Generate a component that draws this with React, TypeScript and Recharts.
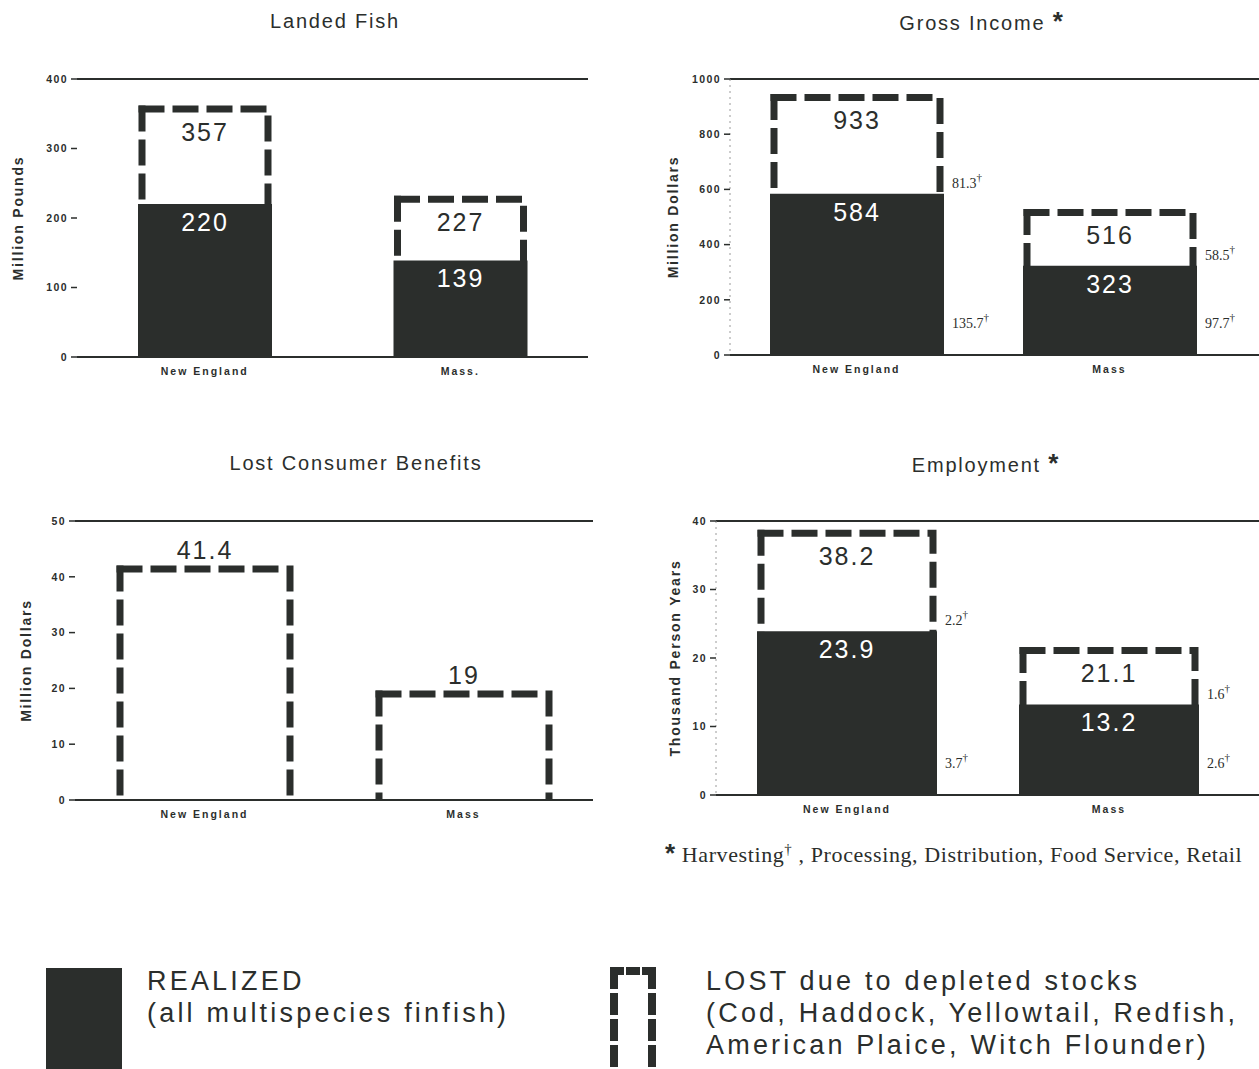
import React from 'react';
import { BarChart, Bar, XAxis, YAxis, LabelList } from 'recharts';

const INK = '#2b2e2c';
const SANS = '"Liberation Sans", Arial, sans-serif';
const SERIF = '"Liberation Serif", "Times New Roman", serif';

// Landed Fish (million pounds)
const landedCats = ['New England', 'Mass.'];
const landedRealized = [220, 139];
const landedTotal = [357, 227];
const landedTicks = [0, 100, 200, 300, 400];

// Gross Income (million dollars)
const incomeCats = ['New England', 'Mass'];
const incomeRealized = [584, 323];
const incomeTotal = [933, 516];
const incomeHarvLost = [81.3, 58.5];
const incomeHarvRealized = [135.7, 97.7];
const incomeTicks = [0, 200, 400, 600, 800, 1000];

// Lost Consumer Benefits (million dollars)
const consumerCats = ['New England', 'Mass'];
const consumerTotal = [41.4, 19];
const consumerTicks = [0, 10, 20, 30, 40, 50];

// Employment (thousand person years)
const employCats = ['New England', 'Mass'];
const employRealized = [23.9, 13.2];
const employTotal = [38.2, 21.1];
const employHarvLost = [2.2, 1.6];
const employHarvRealized = [3.7, 2.6];
const employTicks = [0, 10, 20, 30, 40];

// dashed "lost" outline, open at the bottom
const DashedBox = (props: any) => {
  const { x, y, width, height } = props;
  if (!height) return null;
  const b = y + height - 4;
  return (
    <g fill="none" stroke={INK} strokeWidth={7} strokeDasharray="19 15" strokeLinecap="square">
      <path d={`M${x},${y}H${x + width}V${b}`} />
      <path d={`M${x},${y}V${b}`} />
    </g>
  );
};

// harvesting footnotes beside the bars
const sideNote = (above: boolean) => (p: any) => {
  const vb = p.viewBox ?? p;
  const { x, y, width, height } = vb;
  if (p.value == null) return null;
  const ty = above ? y - 6 : y + height - 27;
  return (
    <text x={x + width + 8} y={ty} fontFamily={SERIF} fontSize={14} fill={INK}>
      {p.value}
      <tspan dy={-7} fontSize={11}>†</tspan>
    </text>
  );
};

type PanelProps = {
  left: number;
  top: number;
  width: number;
  height: number;
  margin: { top: number; right: number; bottom: number; left: number };
  padRight: number;
  yLabel: string;
  yLabelOffset: number;
  ticks: number[];
  barSize: number;
  cats: string[];
  total: number[];
  realized?: number[];
  harvLost?: number[];
  harvRealized?: number[];
  labelOutside?: boolean;
  dottedAxis?: boolean;
};

const tickFont = { fill: INK, fontSize: 10.5, fontWeight: 700, fontFamily: SANS, letterSpacing: 1.4 };

const Panel = (p: PanelProps) => {
  const rows = p.cats.map((name, i) => ({
    name,
    total: p.total[i],
    realized: p.realized ? p.realized[i] : undefined,
    harvLost: p.harvLost ? p.harvLost[i] : undefined,
    harvRealized: p.harvRealized ? p.harvRealized[i] : undefined,
  }));
  const max = p.ticks[p.ticks.length - 1];
  return (
    <div style={{ position: 'absolute', left: p.left, top: p.top }}>
      <BarChart width={p.width} height={p.height} data={rows} margin={p.margin}>
        <XAxis
          xAxisId="base"
          dataKey="name"
          height={20}
          interval={0}
          padding={{ left: 0, right: p.padRight }}
          axisLine={{ stroke: INK, strokeWidth: 2 }}
          tickLine={false}
          tickMargin={5}
          tick={{ ...tickFont, letterSpacing: 2 }}
        />
        <XAxis
          xAxisId="top"
          dataKey="name"
          orientation="top"
          height={1}
          padding={{ left: 0, right: p.padRight }}
          axisLine={{ stroke: INK, strokeWidth: 2 }}
          tickLine={false}
          tick={false}
        />
        <YAxis
          domain={[0, max]}
          ticks={p.ticks}
          width={60}
          axisLine={p.dottedAxis ? { stroke: '#9a9a9a', strokeDasharray: '2 4' } : false}
          tickSize={6}
          tickMargin={3}
          tickLine={{ stroke: INK, strokeWidth: 1.5 }}
          tick={tickFont}
          label={{
            value: p.yLabel,
            angle: -90,
            position: 'insideLeft',
            offset: p.yLabelOffset,
            style: { textAnchor: 'middle', fill: INK, fontSize: 14, fontWeight: 700, fontFamily: SANS, letterSpacing: 1.8 },
          }}
        />
        <Bar xAxisId="top" dataKey="total" barSize={p.barSize} shape={DashedBox} isAnimationActive={false}>
          <LabelList
            dataKey="total"
            position={p.labelOutside ? 'top' : 'insideTop'}
            offset={p.labelOutside ? 10 : 14}
            fill={INK}
            fontSize={25}
            fontFamily={SANS}
            letterSpacing={2}
          />
        </Bar>
        {p.realized && (
          <Bar xAxisId="base" dataKey="realized" barSize={p.barSize + 8} fill={INK} isAnimationActive={false}>
            <LabelList
              dataKey="realized"
              position="insideTop"
              offset={9}
              fill="#ffffff"
              fontSize={25}
              fontFamily={SANS}
              letterSpacing={2}
            />
            {p.harvLost && <LabelList dataKey="harvLost" content={sideNote(true)} />}
            {p.harvRealized && <LabelList dataKey="harvRealized" content={sideNote(false)} />}
          </Bar>
        )}
      </BarChart>
    </div>
  );
};

const titleStyle: React.CSSProperties = {
  position: 'absolute',
  transform: 'translate(-50%, -50%)',
  fontFamily: SANS,
  fontSize: 20,
  letterSpacing: 1.8,
  color: INK,
  whiteSpace: 'nowrap',
};

const legendText: React.CSSProperties = {
  position: 'absolute',
  fontFamily: SANS,
  fontSize: 27,
  letterSpacing: 3.2,
  lineHeight: '32px',
  color: INK,
  whiteSpace: 'nowrap',
};

export default function App() {
  return (
    <div style={{ position: 'absolute', left: 0, top: 0, width: 1259, height: 1069, background: '#fff', overflow: 'hidden' }}>
      <div style={{ ...titleStyle, left: 335, top: 21 }}>Landed Fish</div>
      <div style={{ ...titleStyle, left: 982, top: 21 }}>
        Gross Income <span style={{ fontSize: 26, fontWeight: 700 }}>*</span>
      </div>
      <div style={{ ...titleStyle, left: 356, top: 463 }}>Lost Consumer Benefits</div>
      <div style={{ ...titleStyle, left: 986, top: 463 }}>
        Employment <span style={{ fontSize: 26, fontWeight: 700 }}>*</span>
      </div>

      <Panel
        left={0}
        top={60}
        width={620}
        height={330}
        margin={{ top: 18, right: 32, bottom: 13, left: 17 }}
        padRight={0}
        yLabel="Million Pounds"
        yLabelOffset={1}
        ticks={landedTicks}
        barSize={126}
        cats={landedCats}
        total={landedTotal}
        realized={landedRealized}
      />
      <Panel
        left={640}
        top={60}
        width={619}
        height={330}
        margin={{ top: 18, right: 0, bottom: 15, left: 30 }}
        padRight={23}
        yLabel="Million Dollars"
        yLabelOffset={3}
        ticks={incomeTicks}
        barSize={166}
        cats={incomeCats}
        total={incomeTotal}
        realized={incomeRealized}
        harvLost={incomeHarvLost}
        harvRealized={incomeHarvRealized}
        dottedAxis
      />
      <Panel
        left={0}
        top={500}
        width={620}
        height={330}
        margin={{ top: 20, right: 27, bottom: 10, left: 15 }}
        padRight={0}
        yLabel="Million Dollars"
        yLabelOffset={11}
        ticks={consumerTicks}
        barSize={170}
        cats={consumerCats}
        total={consumerTotal}
        labelOutside
      />
      <Panel
        left={640}
        top={500}
        width={619}
        height={330}
        margin={{ top: 20, right: 0, bottom: 15, left: 16 }}
        padRight={19}
        yLabel="Thousand Person Years"
        yLabelOffset={19}
        ticks={employTicks}
        barSize={172}
        cats={employCats}
        total={employTotal}
        realized={employRealized}
        harvLost={employHarvLost}
        harvRealized={employHarvRealized}
        dottedAxis
      />

      <div style={{ position: 'absolute', left: 665, top: 838, fontFamily: SERIF, fontSize: 22, letterSpacing: 0.6, color: INK, whiteSpace: 'nowrap' }}>
        <span style={{ fontSize: 26, fontWeight: 700, fontFamily: SANS }}>*</span> Harvesting
        <sup style={{ fontSize: 15 }}>†</sup> , Processing, Distribution, Food Service, Retail
      </div>

      <div style={{ position: 'absolute', left: 46, top: 968, width: 76, height: 110, background: INK }} />
      <div style={{ ...legendText, left: 147, top: 965 }}>
        REALIZED
        <br />
        (all multispecies finfish)
      </div>

      <svg style={{ position: 'absolute', left: 606, top: 962 }} width={56} height={120}>
        <g fill="none" stroke={INK} strokeWidth={8} strokeLinecap="square">
          <path d="M8,9H46" strokeDasharray="6 10" />
          <path d="M46,9V120" strokeDasharray="14 12" />
          <path d="M8,9V120" strokeDasharray="14 12" />
        </g>
      </svg>
      <div style={{ ...legendText, left: 706, top: 965 }}>
        LOST due to depleted stocks
        <br />
        (Cod, Haddock, Yellowtail, Redfish,
        <br />
        American Plaice, Witch Flounder)
      </div>
    </div>
  );
}
